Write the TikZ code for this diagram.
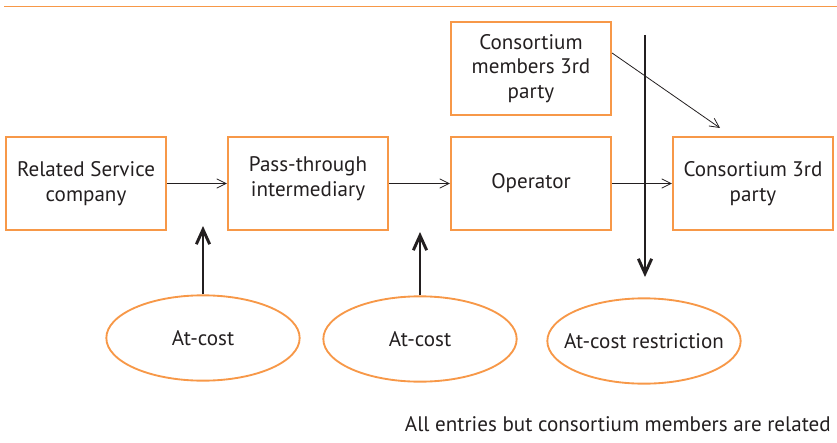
\documentclass[tikz,border=0pt]{standalone}
\usepackage{fontspec}
\setmainfont{PT Sans}
\usepackage{tikz}
\usetikzlibrary{shapes,arrows.meta}
\definecolor{boxorange}{RGB}{247,152,72}
\definecolor{inkgray}{RGB}{35,31,32}

\tikzset{
  box/.style={draw=boxorange, line width=1.6, minimum width=120pt, minimum height=70pt,
    align=center, inner sep=0.75pt, font=\fontsize{15.8}{18.5}\selectfont, text=inkgray},
  oval/.style={ellipse, draw=boxorange, line width=1.4, minimum width=145pt, minimum height=64pt,
    inner sep=0.75pt, font=\fontsize{15.8}{18.5}\selectfont, text=inkgray},
  flow/.style={draw=inkgray, line width=0.6, -{Straight Barb[length=7pt,width=7pt]}},
  push/.style={draw=inkgray, line width=2.2, -{Straight Barb[length=11pt,width=10pt]}}
}

\begin{document}
\begin{tikzpicture}[x=0.75pt,y=0.75pt,yscale=-1,xscale=1]
\useasboundingbox (0,0) rectangle (837,442);
%Straight Lines [id:top rule]
\draw [boxorange, line width=0.9]    (4,6.5) -- (837,6.5) ;
% Boxes
\node [box] (related) at (86,183.5) {Related Service\\company};
\node [box] (passthru) at (308,183.5) {Pass-through\\intermediary\\[-8.5pt]};
\node [box] (operator) at (531,183.5) {Operator};
\node [box] (third) at (753,183.5) {Consortium 3rd\\party};
\node [box] (members) at (531,68.5) {Consortium\\members 3rd\\party};
% Ovals
\node [oval] (cost1) at (203,338) {At-cost};
\node [oval] (cost2) at (420,339) {At-cost};
\node [oval, inner xsep=-10pt] (costcut) at (644,341) {At-cost restriction};
% Free ends
\coordinate (tip1) at (203,226);
\coordinate (tip2) at (420,232);
\coordinate (cuttop) at (645,35);
\coordinate (cutend) at (645,277);
\coordinate (diagend) at (720,128);
% Flow arrows
\draw [flow] (related) -- (passthru);
\draw [flow] (passthru) -- (operator);
\draw [flow] (operator) -- (third);
\draw [flow] (members.east |- 0,53) -- (diagend);
% Thick arrows
\draw [push] (cost1.north) -- (tip1);
\draw [push] (cost2.north) -- (tip2);
\draw [push] (cuttop) -- (cutend);
% Text Node
\node [anchor=base east, inner sep=0.75pt, font=\fontsize{15.8}{18.5}\selectfont, text=inkgray] (note) at (832,431) {All entries but consortium members are related};
\end{tikzpicture}
\end{document}
